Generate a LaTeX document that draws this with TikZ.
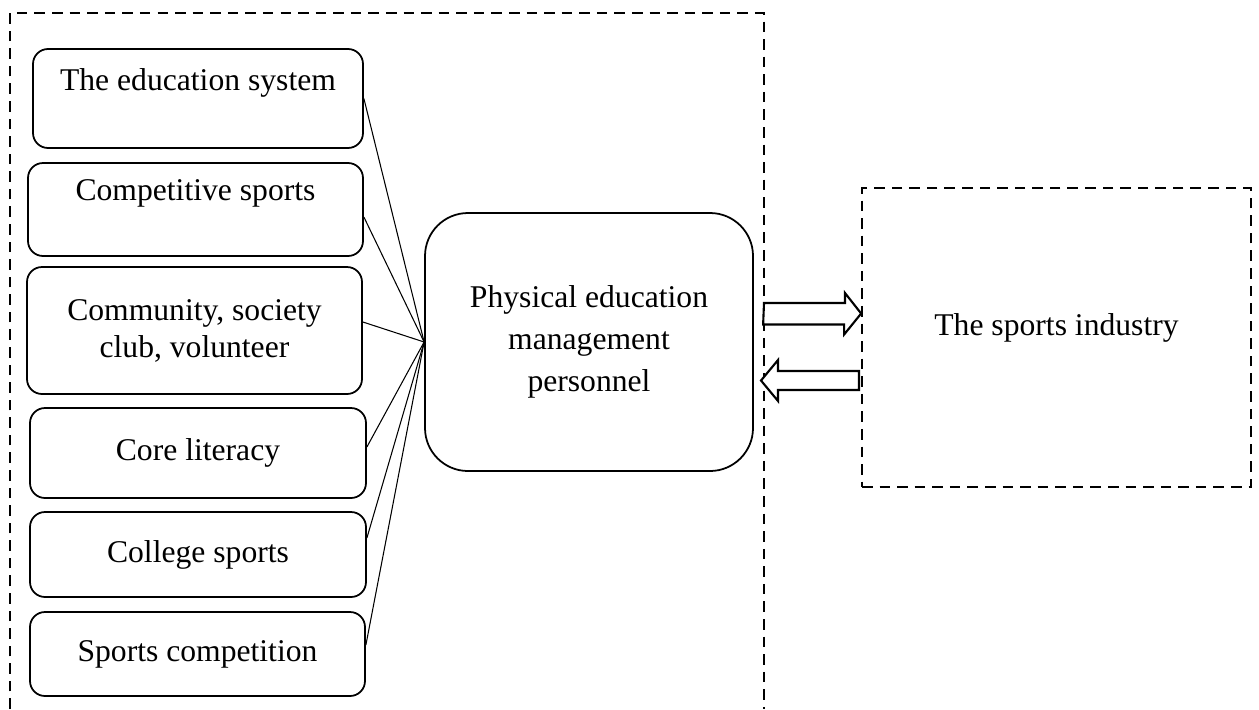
\documentclass[tikz,border=0pt]{standalone}
\usepackage{fontspec}
\setmainfont{Liberation Serif}
\begin{document}
\begin{tikzpicture}[
    font=\fontsize{9}{12}\selectfont,
    leftbox/.style={draw, line width=0.5pt, rounded corners=0.15cm, inner sep=0pt, align=center},
    raisedtext/.style={text depth=11pt},
    centrebox/.style={draw, line width=0.5pt, rounded corners=0.43cm, inner sep=0pt, align=center},
    dashframe/.style={line width=0.5pt, dash pattern=on 3pt off 2pt},
    fanline/.style={line width=0.3pt},
    hollowarrow/.style={draw, line width=0.6pt, fill=white}
  ]
  \useasboundingbox (0,0) rectangle (12.59,7.09);

  % Outer dashed frame (open at the bottom)
  \draw[dashframe] (0.10,0) -- (0.10,6.96) -- (7.64,6.96) -- (7.64,0);

  % Influencing factors
  \node[leftbox, raisedtext, minimum width=3.30cm, minimum height=0.99cm] (b1) at (1.98,6.105) {The education system};
  \node[leftbox, raisedtext, minimum width=3.35cm, minimum height=0.93cm] (b2) at (1.955,4.995) {Competitive sports};
  \node[leftbox, minimum width=3.35cm, minimum height=1.27cm, font=\fontsize{9}{10.5}\selectfont] (b3) at (1.945,3.785) {Community, society\\club, volunteer};
  \node[leftbox, minimum width=3.36cm, minimum height=0.90cm] (b4) at (1.98,2.56) {Core literacy};
  \node[leftbox, minimum width=3.36cm, minimum height=0.85cm] (b5) at (1.98,1.545) {College sports};
  \node[leftbox, minimum width=3.35cm, minimum height=0.84cm] (b6) at (1.975,0.55) {Sports competition};

  % Management personnel
  \node[centrebox, minimum width=3.28cm, minimum height=2.58cm] (pm) at (5.89,3.67) {Physical education\\management\\personnel};

  % Sports industry
  \node[draw, dashframe, text depth=7.5pt, minimum width=3.89cm, minimum height=2.99cm] (ind) at (10.565,3.715) {The sports industry};

  % Lines into the personnel box
  \draw[fanline] (b1.east) -- (pm.west);
  \draw[fanline] ([yshift=-0.075cm]b2.east) -- (pm.west);
  \draw[fanline] ([yshift=0.085cm]b3.east) -- (pm.west);
  \draw[fanline] ([yshift=0.06cm]b4.east) -- (pm.west);
  \draw[fanline] ([yshift=0.165cm]b5.east) -- (pm.west);
  \draw[fanline] ([yshift=0.09cm]b6.east) -- (pm.west);

  % Exchange arrows
  \coordinate (tailR) at (7.64,3.955);
  \coordinate (tipL) at (7.61,3.285);
  \draw[hollowarrow] (tailR) ++(0,0.105) -- ++(0.81,0) -- ++(0,0.1) -- (ind.west |- tailR)
    -- ++(-0.17,-0.21) -- ++(0,0.1) -- ++(-0.81,0) -- cycle;
  \draw[hollowarrow] (tipL) -- ++(0.17,0.205) -- ++(0,-0.11) -- ++(0.81,0) -- ++(0,-0.19)
    -- ++(-0.81,0) -- ++(0,-0.11) -- cycle;

\end{tikzpicture}
\end{document}
